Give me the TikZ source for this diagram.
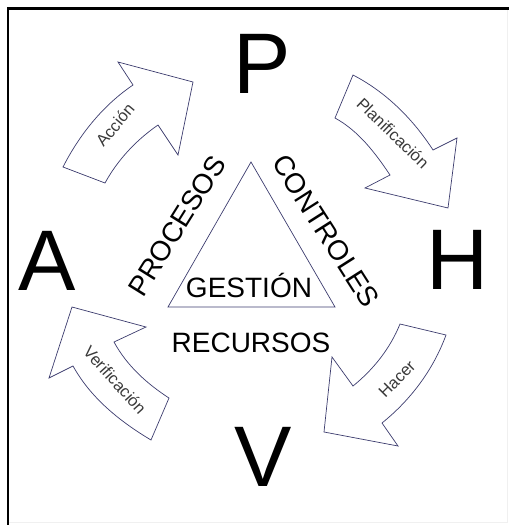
\documentclass[tikz,border=0pt]{standalone}
\usepackage{fontspec}
\setmainfont{Liberation Sans}
\definecolor{arrowblue}{HTML}{3C3C6E}
\definecolor{lblgrey}{HTML}{3A3A3A}
\begin{document}
\begin{tikzpicture}[x=1pt,y=-1pt,
  bigletter/.style={font=\fontsize{86}{86}\selectfont, inner sep=0pt, anchor=base},
  midword/.style={font=\fontsize{28}{28}\selectfont, inner sep=0pt},
  lbl/.style={font=\fontsize{16.5}{16.5}\selectfont, text=lblgrey, inner sep=0pt},
  cyc/.style={draw=arrowblue, line width=0.7pt, fill=white, line join=miter},
  tri/.style={draw=arrowblue, line width=0.7pt, line join=miter}]
\useasboundingbox (0,0) rectangle (509,525);
% frame
\draw[gray!12, line width=0.8pt] (507,9) -- (507,522) -- (9,522);
\draw[black, line width=2.6pt] (8,525) -- (8,8.5) -- (509,8.5);

% big letters
\node[bigletter] (P) at (262,93) {P};
\node[bigletter] (H) at (458,289) {H};
\node[bigletter] (A) at (47,290) {A};
\node[bigletter] (V) at (263,486) {V};

% triangle
\coordinate (t1) at (251,162);
\coordinate (t2) at (168,307);
\coordinate (t3) at (335,307);
\draw[tri] (t1) -- (t2) -- (t3) -- cycle;

\node[midword, anchor=base] (gestion) at (249,297) {GESTIÓN};
\node[midword, anchor=base] (recursos) at (251,352) {RECURSOS};
\node[midword, rotate=58] (procesos) at (177,226) {PROCESOS};
\node[midword, rotate=-57.5] (controles) at (326,231) {CONTROLES};

% Accion arrow
\draw[cyc] (63,167) .. controls (79.5,134.6) and (102.9,105.4) .. (133,85)
  -- (118,62) -- (193,82) -- (178,155) -- (158,125)
  .. controls (136.3,140.0) and (117.7,159.8) .. (105,183) -- cycle;
\node[lbl, rotate=50] (accion) at (115,125) {Acción};

% Planificacion arrow
\draw[cyc] (353,75) .. controls (385.9,92.0) and (412.8,118.8) .. (433,150)
  -- (457,138) -- (448,208) -- (365,188) -- (390,175)
  .. controls (375.2,152.8) and (358.4,130.8) .. (335,118) -- cycle;
\node[lbl, rotate=-44] (planif) at (393,133) {Planificación};

% Hacer arrow
\draw[cyc] (400,324) -- (446,335) .. controls (433.3,369.7) and (410.8,399.8) .. (382,423)
  -- (398,446) -- (324,432) -- (332,357) -- (353,386)
  .. controls (373.5,369.4) and (390.1,348.5) .. (400,324) -- cycle;
\node[lbl, rotate=45] (hacer) at (397,379) {Hacer};

% Verificacion arrow
\draw[cyc] (72,307) -- (146,327) -- (114,342)
  .. controls (126.7,365.4) and (146.7,383.6) .. (169,398)
  -- (151,440) .. controls (119.6,421.3) and (90.7,397.9) .. (73,366)
  -- (49,378) -- cycle;
\node[lbl, rotate=-48] (verif) at (115,380) {Verificación};
\end{tikzpicture}
\end{document}
